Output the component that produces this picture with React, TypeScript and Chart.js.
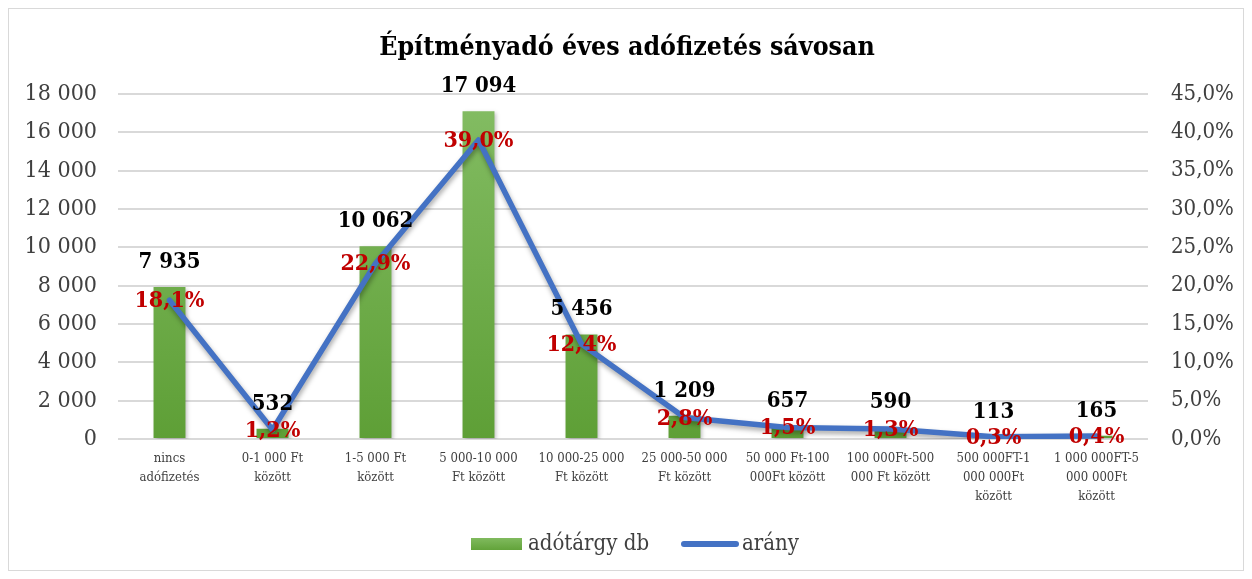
import React, { useEffect, useRef } from "react";
import { Chart, registerables } from "chart.js";

Chart.register(...registerables);

const titleText = "Építményadó éves adófizetés sávosan";
const categories: string[][] = [
  ["nincs", "adófizetés"],
  ["0-1 000 Ft", "között"],
  ["1-5 000 Ft", "között"],
  ["5 000-10 000", "Ft között"],
  ["10 000-25 000", "Ft között"],
  ["25 000-50 000", "Ft között"],
  ["50 000 Ft-100", "000Ft között"],
  ["100 000Ft-500", "000 Ft között"],
  ["500 000FT-1", "000 000Ft", "között"],
  ["1 000 000FT-5", "000 000Ft", "között"],
];
const counts = [7935, 532, 10062, 17094, 5456, 1209, 657, 590, 113, 165];
const shares = [18.1, 1.2, 22.9, 39.0, 12.4, 2.8, 1.5, 1.3, 0.3, 0.4];
const seriesNames = ["adótárgy db", "arány"];
const leftAxis = { min: 0, max: 18000, step: 2000 };
const rightAxis = { min: 0, max: 45, step: 5 };

const FAMILY = '"DejaVu Serif Condensed", "DejaVu Serif", serif';
const GREEN = "#70AD47";
const BLUE = "#4472C4";
const RED = "#C00000";
const GRID = "#D9D9D9";
const TEXT = "#404040";

const fmtNum = (n: number) => String(Math.round(n)).replace(/\B(?=(\d{3})+(?!\d))/g, " ");
const fmtPct = (v: number) => v.toFixed(1).replace(".", ",") + "%";

const shadowPlugin = {
  id: "shadows",
  beforeDatasetDraw(chart: any, args: any) {
    const ctx = chart.ctx;
    ctx.save();
    if (args.meta.type === "line") {
      ctx.shadowColor = "rgba(0,0,0,0.35)";
      ctx.shadowBlur = 5;
      ctx.shadowOffsetX = 1;
      ctx.shadowOffsetY = 3;
    } else {
      ctx.shadowColor = "rgba(0,0,0,0.25)";
      ctx.shadowBlur = 4;
      ctx.shadowOffsetX = 2;
      ctx.shadowOffsetY = 2;
    }
  },
  afterDatasetDraw(chart: any) {
    chart.ctx.restore();
  },
};

const labelsPlugin = {
  id: "valueLabels",
  afterDatasetsDraw(chart: any) {
    const ctx = chart.ctx;
    ctx.save();
    ctx.textAlign = "center";
    ctx.textBaseline = "middle";
    const barMeta = chart.getDatasetMeta(0);
    ctx.font = `bold 22px ${FAMILY}`;
    ctx.fillStyle = "#000000";
    barMeta.data.forEach((el: any, i: number) => {
      ctx.fillText(fmtNum(counts[i]), el.x, el.y - 25);
    });
    const lineMeta = chart.getDatasetMeta(1);
    ctx.font = `bold 23px ${FAMILY}`;
    ctx.fillStyle = RED;
    lineMeta.data.forEach((el: any, i: number) => {
      ctx.fillText(fmtPct(shares[i]), el.x, el.y + 1);
    });
    ctx.restore();
  },
};

const decorPlugin = {
  id: "decor",
  afterDraw(chart: any) {
    const ctx = chart.ctx;
    ctx.save();
    // title
    ctx.font = `bold 26.5px ${FAMILY}`;
    ctx.fillStyle = "#000000";
    ctx.textAlign = "center";
    ctx.textBaseline = "middle";
    ctx.fillText(titleText, 618, 39);
    // legend
    const y = 535;
    ctx.font = `22px ${FAMILY}`;
    ctx.textAlign = "left";
    const g = ctx.createLinearGradient(0, y - 6, 0, y + 6);
    g.addColorStop(0, "#80BA5E");
    g.addColorStop(1, "#62A33A");
    ctx.fillStyle = g;
    ctx.fillRect(462, y - 6, 51, 12);
    ctx.fillStyle = TEXT;
    ctx.fillText(seriesNames[0], 519, y);
    ctx.strokeStyle = BLUE;
    ctx.lineWidth = 6;
    ctx.lineCap = "round";
    ctx.beginPath();
    ctx.moveTo(675, y);
    ctx.lineTo(727, y);
    ctx.stroke();
    ctx.fillText(seriesNames[1], 733, y);
    ctx.restore();
  },
};

export default function App() {
  const ref = useRef<HTMLCanvasElement | null>(null);
  useEffect(() => {
    if (!ref.current) return;
    const chart = new Chart(ref.current, {
      type: "bar",
      data: {
        labels: categories,
        datasets: [
          {
            type: "bar",
            label: seriesNames[0],
            data: counts,
            yAxisID: "y",
            order: 1,
            categoryPercentage: 1,
            barPercentage: 0.31,
            backgroundColor: (c: any) => {
              const area = c.chart.chartArea;
              if (!area) return GREEN;
              const g = c.chart.ctx.createLinearGradient(0, area.top, 0, area.bottom);
              g.addColorStop(0, "#84BD64");
              g.addColorStop(1, "#5E9F36");
              return g;
            },
          },
          {
            type: "line",
            label: seriesNames[1],
            data: shares,
            yAxisID: "y1",
            order: 0,
            borderColor: BLUE,
            borderWidth: 5.5,
            pointRadius: 0,
            tension: 0,
            borderCapStyle: "round",
            borderJoinStyle: "round",
          } as any,
        ],
      },
      options: {
        animation: false,
        responsive: false,
        maintainAspectRatio: false,
        layout: { padding: { top: 85, left: 0, right: 0, bottom: 0 } },
        plugins: {
          legend: { display: false },
          title: { display: false },
          tooltip: { enabled: false },
        },
        scales: {
          x: {
            grid: { display: false, drawTicks: false },
            border: { display: false },
            afterFit: (s: any) => {
              s.height = 131;
            },
            ticks: {
              autoSkip: false,
              maxRotation: 0,
              minRotation: 0,
              padding: 10,
              color: TEXT,
              font: { family: FAMILY, size: 13, lineHeight: "19px" as any },
            },
          },
          y: {
            position: "left",
            min: leftAxis.min,
            max: leftAxis.max,
            grid: { color: GRID, lineWidth: 2, drawTicks: false },
            border: { display: false },
            afterFit: (s: any) => {
              s.width = 109;
            },
            ticks: {
              stepSize: leftAxis.step,
              padding: 21,
              color: TEXT,
              font: { family: FAMILY, size: 23 },
              callback: (v: any) => fmtNum(Number(v)),
            },
          },
          y1: {
            position: "right",
            min: rightAxis.min,
            max: rightAxis.max,
            grid: { display: false, drawTicks: false },
            border: { display: false },
            afterFit: (s: any) => {
              s.width = 95;
            },
            ticks: {
              stepSize: rightAxis.step,
              padding: 23,
              color: TEXT,
              font: { family: FAMILY, size: 22 },
              callback: (v: any) => fmtPct(Number(v)),
            },
          },
        },
      },
      plugins: [shadowPlugin, labelsPlugin, decorPlugin],
    } as any);
    return () => chart.destroy();
  }, []);

  return (
    <div
      style={{
        width: 1236,
        height: 563,
        border: "1px solid #D9D9D9",
        boxSizing: "border-box",
        background: "#fff",
      }}
    >
      <canvas ref={ref} width={1234} height={561} style={{ display: "block", width: 1234, height: 561 }} />
    </div>
  );
}
